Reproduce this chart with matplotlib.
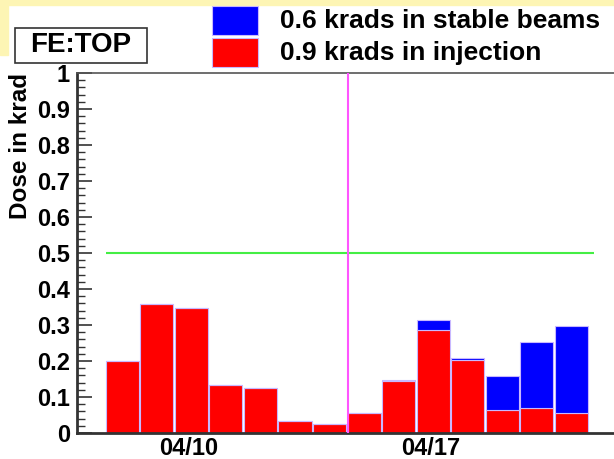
import numpy as np
import matplotlib
matplotlib.use("Agg")
import matplotlib.pyplot as plt
from matplotlib.patches import Rectangle
from matplotlib.ticker import MultipleLocator, FuncFormatter

plt.rcParams["font.family"] = ["Liberation Sans", "DejaVu Sans"]
plt.rcParams["font.weight"] = "bold"

# April day of each bin
days = np.arange(8, 22)
injection = [0.200, 0.357, 0.348, 0.133, 0.125, 0.032, 0.024,
             0.056, 0.144, 0.287, 0.203, 0.065, 0.069, 0.056]
stable = [0.000, 0.000, 0.000, 0.000, 0.000, 0.000, 0.000,
          0.000, 0.004, 0.026, 0.006, 0.092, 0.183, 0.242]
tick_days = [10, 17]
tick_labels = ["04/10", "04/17"]
limit = 0.5
week_split = 15
title = "FE:TOP"
legend_labels = ["0.6 krads in stable beams", "0.9 krads in injection"]

offset = -0.39  # bin start relative to the day mark
width = 0.955
red = "#ff0000"
blue = "#0000ff"
edge = "#c8b8ff"

fig = plt.figure(figsize=(6.14, 4.59), dpi=100)
fig.patch.set_facecolor("white")

# pale yellow frame pieces at the top and left
fig.add_artist(Rectangle((0, 1 - 5/459), 1, 5/459, transform=fig.transFigure,
                         color="#fdf5b4", zorder=0))
fig.add_artist(Rectangle((0, 1 - 55/459), 8/614, 55/459, transform=fig.transFigure,
                         color="#fdf5b4", zorder=0))

ax = fig.add_axes([77/614, 1 - 433/459, 553/614, 360/459])
left = days + offset
ax.bar(left, injection, width=width, align="edge", color=red, edgecolor=edge, linewidth=0.8, zorder=2)
ax.bar(left, stable, bottom=injection, width=width, align="edge", color=blue,
       edgecolor=edge, linewidth=0.8, zorder=2)

ax.hlines(limit, left[0], left[-1] + 1.13, color="#44ee44", linewidth=1.5, zorder=3)
ax.axvline(week_split + offset, color="#ff55ff", linewidth=1.5, zorder=3)

ax.set_xlim(left[0] - 0.83, left[0] + 15.17)
ax.set_ylim(0, 1)

ax.set_xticks(tick_days, tick_labels)
ax.tick_params(axis="x", length=0, labelsize=17, pad=3)
ax.yaxis.set_major_locator(MultipleLocator(0.1))
ax.yaxis.set_minor_locator(MultipleLocator(0.02))
ax.yaxis.set_major_formatter(FuncFormatter(lambda v, p: f"{v:g}"))
ax.tick_params(axis="y", which="major", direction="in", length=11, width=1.2,
               labelsize=17, pad=5, color="#333333")
ax.tick_params(axis="y", which="minor", direction="in", length=6, width=1.0, color="#333333")

for s in ["left", "bottom"]:
    ax.spines[s].set_linewidth(2)
    ax.spines[s].set_color("#333333")
ax.spines["top"].set_linewidth(1.2)
ax.spines["top"].set_color("#555555")
ax.spines["right"].set_visible(False)

ax.set_ylabel("Dose in krad", fontsize=17.5, fontweight="bold")
ax.yaxis.set_label_coords((21 - 77) / 553, 1.0)
ax.yaxis.label.set_horizontalalignment("right")
ax.yaxis.label.set_verticalalignment("center")

# title box
fig.add_artist(Rectangle((15/614, 1 - 63/459), 132/614, 35/459, transform=fig.transFigure,
                         facecolor="white", edgecolor="#333333", linewidth=1.2, zorder=5))
fig.text(81/614, 1 - 45.5/459, title, fontsize=20, fontweight="bold", ha="center", va="center",
         zorder=6)

for i, (lab, col) in enumerate(zip(legend_labels, [blue, red])):
    y0 = 1 - (35 + 32*i)/459
    fig.add_artist(Rectangle((212/614, y0), 46/614, 29/459, transform=fig.transFigure,
                             facecolor=col, edgecolor=edge, linewidth=0.8))
    fig.text(280/614, y0 + 14/459, lab, fontsize=19, fontweight="bold", ha="left", va="center")

fig.savefig("out.png", dpi=100)
